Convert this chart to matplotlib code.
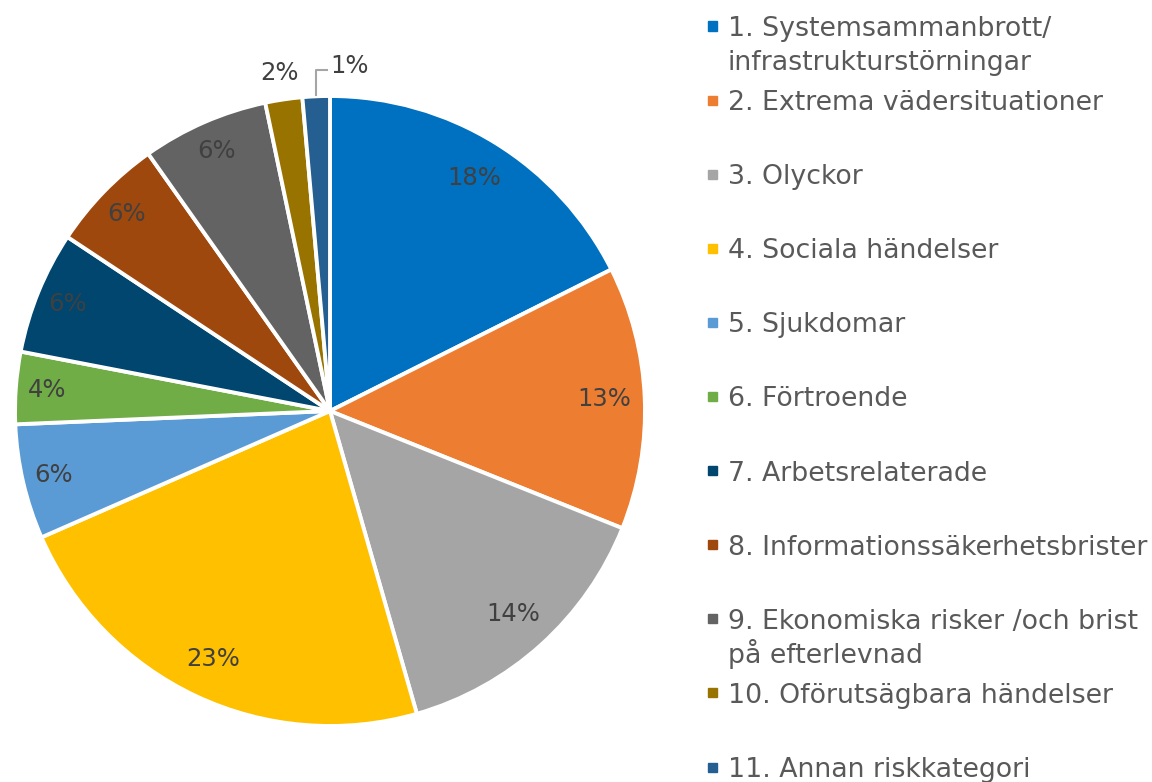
import matplotlib
matplotlib.use("Agg")
import matplotlib.pyplot as plt
import numpy as np

categories = [
    "1. Systemsammanbrott/\ninfrastrukturstörningar",
    "2. Extrema vädersituationer",
    "3. Olyckor",
    "4. Sociala händelser",
    "5. Sjukdomar",
    "6. Förtroende",
    "7. Arbetsrelaterade",
    "8. Informationssäkerhetsbrister",
    "9. Ekonomiska risker /och brist\npå efterlevnad",
    "10. Oförutsägbara händelser",
    "11. Annan riskkategori",
]
shares = [17.6, 13.5, 14.5, 22.9, 5.9, 3.7, 6.3, 5.9, 6.5, 1.9, 1.4]
colors = ["#0070C0", "#ED7D31", "#A5A5A5", "#FFC000", "#5B9BD5", "#70AD47",
          "#00466E", "#9E480E", "#636363", "#997300", "#255E91"]

text_color = "#404040"
plt.rcParams["font.family"] = ["DejaVu Sans"]

fig = plt.figure(figsize=(11.52, 7.82), dpi=100)
# pie centre ~ (330, 411) px, radius ~315 px
ax = fig.add_axes([15 / 1152, 56 / 782, 630 / 1152, 630 / 782])

wedges, _ = ax.pie(shares, colors=colors, startangle=90, counterclock=False,
                   radius=1, wedgeprops=dict(edgecolor="white", linewidth=2.8),
                   frame=True)
ax.set_xlim(-1, 1)
ax.set_ylim(-1, 1)
ax.set_aspect("equal")
ax.axis("off")

total = sum(shares)
pct_size = 17.5
for w, v in zip(wedges, shares):
    if v < 3:
        continue
    mid = np.deg2rad((w.theta1 + w.theta2) / 2)
    r = 0.87 if v > 10 else 0.9
    ax.text(r * np.cos(mid), r * np.sin(mid), f"{round(v / total * 100):.0f}%",
            ha="center", va="center", fontsize=pct_size, color=text_color)

# small slices: labels outside
w10, w11 = wedges[9], wedges[10]
mid10 = np.deg2rad((w10.theta1 + w10.theta2) / 2)
ax.text(1.08 * np.cos(mid10), 1.085 * np.sin(mid10), f"{round(shares[9]):.0f}%",
        ha="center", va="center", fontsize=pct_size, color=text_color)
mid11 = np.deg2rad((w11.theta1 + w11.theta2) / 2)
x0, y0 = np.cos(mid11), np.sin(mid11)
ax.plot([x0, x0, x0 + 0.035], [y0 + 0.005, y0 + 0.085, y0 + 0.085],
        color="#A5A5A5", lw=1.5, clip_on=False)
ax.text(x0 + 0.045, y0 + 0.095, f"{round(shares[10]):.0f}%",
        ha="left", va="center", fontsize=pct_size, color=text_color)

# legend, drawn as squares + text in pixel slots
for i, (cat, c) in enumerate(zip(categories, colors)):
    yc = 26 + 74.1 * i
    fig.patches.append(plt.Rectangle((708 / 1152, (782 - yc - 4.5) / 782),
                                     9 / 1152, 9 / 782, color=c,
                                     transform=fig.transFigure, figure=fig))
    for j, line in enumerate(cat.split("\n")):
        fig.text(728 / 1152, (782 - yc - 10 - 34 * j) / 782, line, ha="left",
                 va="baseline", fontsize=19.3, color="#595959")

fig.savefig("out.png", dpi=100)
